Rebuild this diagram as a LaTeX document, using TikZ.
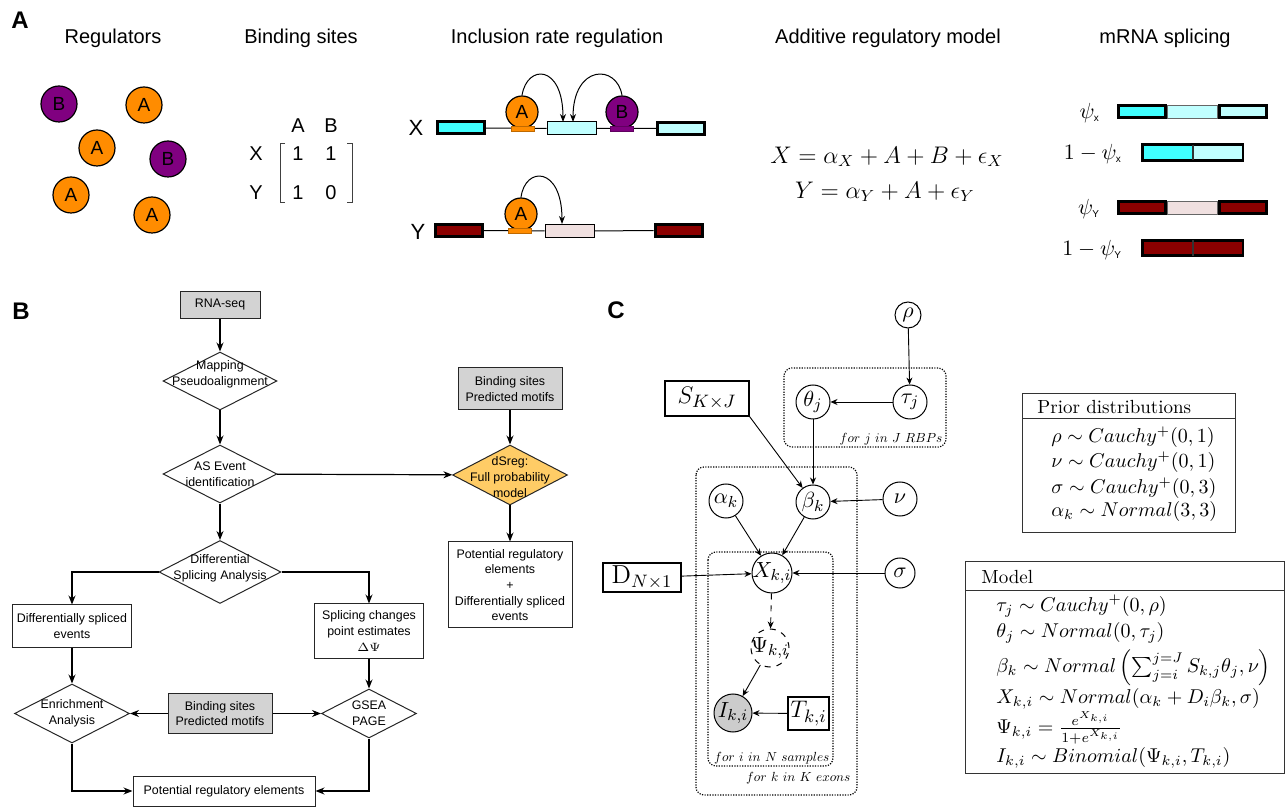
\documentclass[tikz,border=0pt]{standalone}
\usepackage{fontspec}
\setsansfont{Liberation Sans}
\usepackage{amsmath}
\usepackage{amssymb}
\usetikzlibrary{arrows.meta, shapes.geometric, positioning, calc}

\definecolor{colA}{RGB}{255,140,0}
\definecolor{colB}{RGB}{128,0,128}
\definecolor{colX}{RGB}{64,255,255}
\definecolor{colXl}{RGB}{192,255,255}
\definecolor{colY}{RGB}{139,0,0}
\definecolor{colYl}{RGB}{240,224,224}
\definecolor{boxgray}{RGB}{211,211,211}
\definecolor{modelorange}{RGB}{255,204,102}

% zero width text, so circles keep their size
\newcommand{\tightlabel}[1]{\makebox[0pt]{#1}}

\tikzset{
  panel/.style={font=\sffamily\bfseries\fontsize{12}{12}\selectfont},
  heading/.style={font=\sffamily\fontsize{10}{12}\selectfont},
  mat/.style={font=\sffamily\fontsize{10}{12}\selectfont},
  reg/.style={circle, draw, line width=0.6pt, minimum size=18pt, inner sep=0pt,
    font=\sffamily\fontsize{9.5}{10}\selectfont},
  regA/.style={reg, fill=colA},
  regB/.style={reg, fill=colB},
  site/.style={rectangle, inner sep=0pt, minimum width=11.5pt, minimum height=2.5pt, draw=#1!75!black, fill=#1, line width=0.3pt},
  exon/.style={rectangle, draw, line width=1.5pt, inner sep=0pt, minimum width=23.5pt, minimum height=6pt},
  midexon/.style={rectangle, draw, line width=0.5pt, inner sep=0pt, minimum width=24.5pt, minimum height=6.5pt},
  gene/.style={font=\sffamily\fontsize{11}{12}\selectfont},
  bind/.style={-{Stealth[length=4pt,width=3pt]}, line width=0.5pt},
  seg/.style={rectangle, draw, line width=1.4pt, inner sep=0pt, minimum width=23.6pt, minimum height=6pt},
  thinseg/.style={rectangle, draw=black!60, line width=0.4pt, inner sep=0pt, minimum width=25pt, minimum height=6.5pt},
  halfseg/.style={rectangle, inner sep=0pt, minimum width=25pt, minimum height=7.4pt},
  % flowchart
  flowtext/.style={font=\sffamily\fontsize{6.2}{7.8}\selectfont, align=center},
  proc/.style={rectangle, draw=black!85, line width=0.5pt, flowtext, inner sep=1pt},
  data/.style={proc, fill=boxgray},
  decision/.style={diamond, draw=black!85, line width=0.5pt, inner sep=0pt},
  flow/.style={-{Stealth[length=4.5pt,width=3.5pt]}, line width=0.6pt},
  % graphical model
  latent/.style={circle, draw, line width=0.5pt, minimum size=17pt, inner sep=0pt,
    font=\fontsize{11}{11}\selectfont},
  const/.style={rectangle, draw, line width=0.7pt, inner sep=1pt, font=\fontsize{13}{13}\selectfont},
  plate/.style={rounded corners=4pt, line width=0.6pt, dash pattern=on 0.6pt off 0.7pt},
  platelabel/.style={font=\fontsize{10}{10}\selectfont, scale=0.66, transform shape, inner sep=1pt},
  edge/.style={-{Stealth[length=3.5pt,width=3pt]}, line width=0.45pt},
  boxhead/.style={font=\fontsize{9.5}{10}\selectfont, inner sep=0pt},
  boxeq/.style={font=\fontsize{10}{10}\selectfont, inner sep=0pt},
}

\begin{document}
\begin{tikzpicture}[x=0.5pt, y=-0.5pt]
\useasboundingbox (0,0) rectangle (1286,807);

%%% A: regulators and splicing
\node[panel] at (20,20) {A};
\node[heading] at (113,38) {Regulators};
\node[heading] at (301,38) {Binding sites};
\node[heading] at (557,38) {Inclusion rate regulation};
\node[heading] at (888,38) {Additive regulatory model};
\node[heading] at (1165,38) {mRNA splicing};

\node[regB] (r1) at (59,104) {B};
\node[regA] (r2) at (144,105) {A};
\node[regA] (r3) at (97,148) {A};
\node[regB] (r4) at (168,159) {B};
\node[regA] (r5) at (71,195) {A};
\node[regA] (r6) at (152,215) {A};

% binding matrix
\node[mat] (colhA) at (298,126) {A};
\node[mat] (colhB) at (331,126) {B};
\node[mat] (rowX) at (256,154) {X};
\node[mat] (rowY) at (256,193) {Y};
\node[mat] (m11) at (298,154) {1};
\node[mat] (m12) at (331,154) {1};
\node[mat] (m21) at (298,193) {1};
\node[mat] (m22) at (331,193) {0};
\draw[black!75, line width=0.5pt] (285,144) -- (280,144) -- (280,203) -- (285,203);
\draw[black!75, line width=0.5pt] (347,144) -- (352,144) -- (352,203) -- (347,203);

% gene X
\node[gene] at (416,128) {X};
\node[exon, fill=colX] (x1) at (461,128) {};
\node[midexon, fill=colXl] (x2) at (571.5,128.5) {};
\node[exon, fill=colXl] (x3) at (681,128.5) {};
\draw[line width=0.5pt] (x1) -- (x2) (x2) -- (x3);
\node[regA, minimum size=16pt] (xa) at (522,112) {A};
\node[site=colA] at (522.5,128.5) {};
\node[regB, minimum size=16pt] (xb) at (622,112) {B};
\node[site=colB] at (621.5,129) {};
\coordinate (xhitA) at (563,122);
\coordinate (xhitB) at (573,122);
\draw[bind] (xa.north) .. controls (527,64) and (563,64) .. (xhitA);
\draw[bind] (xb.north) .. controls (617,64) and (573,64) .. (xhitB);

% gene Y
\node[gene] at (418,232) {Y};
\node[exon, fill=colY] (y1) at (458.5,230.5) {};
\node[midexon, fill=colYl] (y2) at (569.5,231) {};
\node[exon, fill=colY] (y3) at (678.5,230.5) {};
\draw[line width=0.5pt] (y1) -- (y2) (y2) -- (y3);
\node[regA, minimum size=16pt] (ya) at (521,214) {A};
\node[site=colA] at (520,231) {};
\coordinate (yhitA) at (562,224);
\draw[bind] (ya.north) .. controls (525,166) and (562,166) .. (yhitA);

% additive model
\node[font=\fontsize{12}{12}\selectfont] at (887,157) {$X = \alpha_X + A + B + \epsilon_X$};
\node[font=\fontsize{12}{12}\selectfont] at (885,192) {$Y = \alpha_Y + A + \epsilon_Y$};

% spliced isoforms
\node[font=\fontsize{11}{11}\selectfont, anchor=east] at (1107,113) {$\psi_{\textsf{\tiny x}}$};
\node[seg, fill=colX] (px1) at (1142,111.5) {};
\node[thinseg, fill=colXl] (px2) at (1192.5,111.5) {};
\node[seg, fill=colXl] (px3) at (1243,111.5) {};
\node[font=\fontsize{11}{11}\selectfont, anchor=east] at (1129,154) {$1-\psi_{\textsf{\tiny x}}$};
\node[halfseg, fill=colX] (qx1) at (1167.5,152.5) {};
\node[halfseg, fill=colXl] (qx2) at (1217.5,152.5) {};
\draw[line width=1.4pt] (qx1.north west) rectangle (qx2.south east);
\draw[line width=0.6pt, black!80] (qx1.north east) -- (qx1.south east);
\node[font=\fontsize{11}{11}\selectfont, anchor=east] at (1107,209) {$\psi_{\textsf{\tiny Y}}$};
\node[seg, fill=colY] (py1) at (1142,207.5) {};
\node[thinseg, fill=colYl] (py2) at (1192.5,207.5) {};
\node[seg, fill=colY] (py3) at (1243,207.5) {};
\node[font=\fontsize{11}{11}\selectfont, anchor=east] at (1129,250) {$1-\psi_{\textsf{\tiny Y}}$};
\node[halfseg, fill=colY] (qy1) at (1167.5,248) {};
\node[halfseg, fill=colY] (qy2) at (1217.5,248) {};
\draw[line width=1.4pt] (qy1.north west) rectangle (qy2.south east);
\draw[line width=0.6pt, black!80] (qy1.north east) -- (qy1.south east);

%%% B: workflow
\node[panel] at (21,311) {B};
\node[data, minimum width=40pt, minimum height=13.5pt] (rnaseq) at (220,305) {RNA-seq};
\node[decision, minimum width=57pt, minimum height=29pt,
  label={[flowtext, yshift=3.5pt]center:{Mapping\\Pseudoalignment}}] (mapping) at (220,381) {};
\node[decision, minimum width=57pt, minimum height=29pt,
  label={[flowtext]center:{AS Event\\identification}}] (asevent) at (220,474) {};
\node[data, minimum width=52pt, minimum height=21pt] (bindtop) at (510,389) {Binding sites\\Predicted motifs};
\node[decision, fill=modelorange, minimum width=57.5pt, minimum height=30pt,
  label={[flowtext, yshift=-1pt]center:{dSreg:\\Full probability\\model}}] (dsreg) at (510,475) {};
\node[proc, minimum width=62pt, minimum height=43pt] (dsregout) at (510,585) {Potential regulatory\\elements\\+\\Differentially spliced\\events};
\node[decision, minimum width=61pt, minimum height=31.5pt,
  label={[flowtext, yshift=2pt]center:{Differential\\Splicing Analysis}}] (diffsplice) at (220,572) {};
\node[proc, minimum width=59.5pt, minimum height=21pt] (dsevents) at (72,626) {Differentially spliced\\events};
\node[proc, minimum width=54.5pt, minimum height=27pt] (spchanges) at (369,631) {Splicing changes\\point estimates\\$\Delta\Psi$};
\node[decision, minimum width=57.5pt, minimum height=29.5pt,
  label={[flowtext]center:{Enrichment\\Analysis}}] (enrich) at (72,713.5) {};
\node[data, minimum width=52pt, minimum height=20pt] (bindmid) at (220,713.5) {Binding sites\\Predicted motifs};
\node[decision, minimum width=47.5pt, minimum height=24.5pt,
  label={[flowtext]center:{GSEA\\PAGE}}] (gsea) at (369,713.5) {};
\node[proc, minimum width=91pt, minimum height=15pt] (potential) at (224,791) {Potential regulatory elements};

\draw[flow] (rnaseq) -- (mapping);
\draw[flow] (mapping) -- (asevent);
\draw[flow] (asevent) -- (dsreg);
\draw[flow] (bindtop) -- (dsreg);
\draw[flow] (dsreg) -- (dsregout);
\draw[flow] (asevent) -- (diffsplice);
\draw[flow] (diffsplice.west) -| (dsevents);
\draw[flow] (diffsplice.east) -| (spchanges);
\draw[flow] (dsevents) -- (enrich);
\draw[flow] (spchanges) -- (gsea);
\draw[flow] (bindmid) -- (enrich);
\draw[flow] (bindmid) -- (gsea);
\draw[flow] (enrich.south) |- (potential);
\draw[flow] (gsea.south) |- (potential);

%%% C: graphical model
\node[panel] at (616,310) {C};
\draw[plate] (784,368) rectangle (946,447);
\draw[plate] (696,467) rectangle (857,795);
\draw[plate] (708,552) rectangle (833,766);
\node[platelabel, anchor=south east] at (944,447) {$for\ j\ in\ J\ RBPs$};
\node[platelabel, anchor=south east] at (831,766) {$for\ i\ in\ N\ samples$};
\node[platelabel, anchor=south east] at (852,786) {$for\ k\ in\ K\ exons$};

\node[latent, minimum size=13pt] (rho) at (908,315) {$\rho$};
\node[latent] (tau) at (910,402) {$\tau_j$};
\node[latent] (theta) at (813,402) {$\theta_j$};
\node[const, minimum width=42pt, minimum height=17.5pt] (skj) at (707,398.5) {$S_{K\times J}$};
\node[latent] (beta) at (813,502) {$\beta_k$};
\node[latent] (alpha) at (726,501) {$\alpha_k$};
\node[latent] (nu) at (900,499) {$\nu$};
\node[latent, minimum size=20pt] (xki) at (772,573) {\tightlabel{$X_{k,i}$}};
\node[const, minimum width=39pt, minimum height=14.5pt] (dn) at (642,577.5) {$\mathrm{D}_{N\times 1}$};
\node[latent, minimum size=15pt] (sigma) at (900,573) {$\sigma$};
\node[latent, dashed, minimum size=19pt] (psi) at (770,648) {\tightlabel{$\Psi_{k,i}$}};
\node[latent, fill=black!20, minimum size=19pt] (iki) at (733,713) {\tightlabel{$I_{k,i}$}};
\node[const, minimum width=20.5pt, minimum height=16.5pt] (tki) at (808.5,713.5) {$T_{k,i}$};

\draw[edge] (rho) -- (tau);
\draw[edge] (tau) -- (theta);
\draw[edge] (theta) -- (beta);
\draw[edge] (skj.south east) -- (beta);
\draw[edge] (nu) -- (beta);
\draw[edge] (alpha) -- (xki);
\draw[edge] (beta) -- (xki);
\draw[edge] (dn) -- (xki);
\draw[edge] (sigma) -- (xki);
\draw[edge, dashed] (xki) -- (psi);
\draw[edge] (psi) -- (iki);
\draw[edge] (tki) -- (iki);

% priors
\draw[black!80, line width=0.5pt] (1022,394) rectangle (1235,533);
\draw[black!80, line width=0.5pt] (1022,419) -- (1235,419);
\node[boxhead, anchor=west] at (1037,407) {Prior distributions};
\node[boxeq, anchor=west] at (1051,437) {$\rho \sim Cauchy^{+}(0,1)$};
\node[boxeq, anchor=west] at (1051,462) {$\nu \sim Cauchy^{+}(0,1)$};
\node[boxeq, anchor=west] at (1051,488) {$\sigma \sim Cauchy^{+}(0,3)$};
\node[boxeq, anchor=west] at (1051,512) {$\alpha_k \sim Normal(3,3)$};

% likelihood
\draw[black!80, line width=0.5pt] (965,562) rectangle (1284,773);
\draw[black!80, line width=0.5pt] (965,591) -- (1284,591);
\node[boxhead, anchor=west] at (981,577) {Model};
\node[boxeq, anchor=west] at (996,606) {$\tau_j \sim Cauchy^{+}(0,\rho)$};
\node[boxeq, anchor=west] at (996,633) {$\theta_j \sim Normal(0,\tau_j)$};
\node[boxeq, anchor=west] at (996,668) {$\beta_k \sim Normal\left(\sum_{j=i}^{j=J} S_{k,j}\theta_j,\nu\right)$};
\node[boxeq, anchor=west] at (996,699) {$X_{k,i} \sim Normal(\alpha_k + D_i\beta_k,\sigma)$};
\node[boxeq, anchor=west] at (996,728) {$\Psi_{k,i} = \frac{e^{X_{k,i}}}{1+e^{X_{k,i}}}$};
\node[boxeq, anchor=west] at (996,758) {$I_{k,i} \sim Binomial(\Psi_{k,i},T_{k,i})$};
\end{tikzpicture}
\end{document}
